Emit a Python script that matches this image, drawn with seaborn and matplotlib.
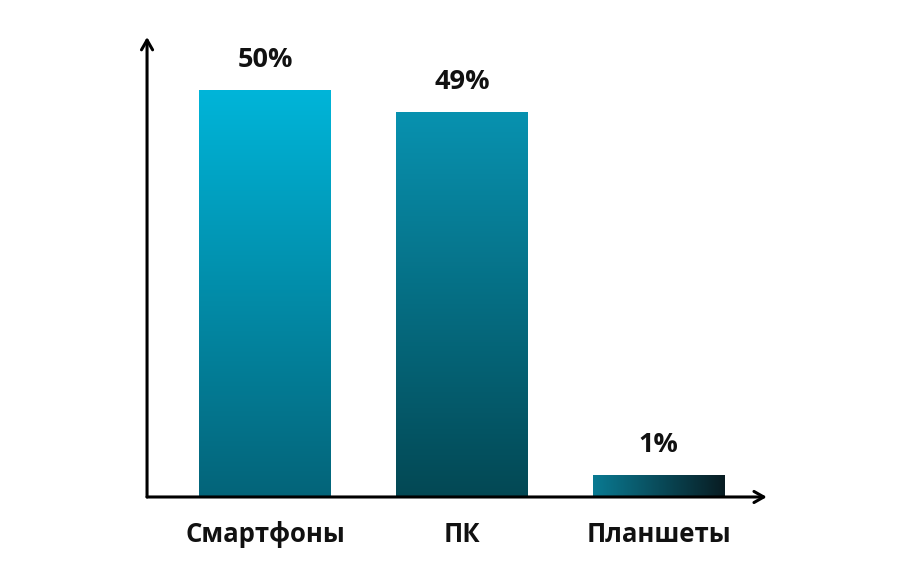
import numpy as np
import pandas as pd
import matplotlib
matplotlib.use("Agg")
import matplotlib.pyplot as plt
import seaborn as sns
from matplotlib.colors import LinearSegmentedColormap

# Data
devices = ["Смартфоны", "ПК", "Планшеты"]
share_labels = ["50%", "49%", "1%"]
# bar heights as drawn in the picture (not strictly to scale)
bar_heights = [50, 47.3, 2.7]

# Gradient colours per bar: (start, end, direction)
gradients = [
    ("#00b5d9", "#046479", "vertical"),
    ("#0892b0", "#034854", "vertical"),
    ("#0a7a92", "#081c22", "horizontal"),
]

df = pd.DataFrame({"device": devices, "height": bar_heights})

sns.set_style("white")
plt.rcParams["font.family"] = ["Open Sans", "DejaVu Sans"]

fig = plt.figure(figsize=(9.15, 5.84), dpi=100)
ax = fig.add_axes([0.1607, 0.149, 0.838 - 0.1607, 0.9366 - 0.149])

sns.barplot(data=df, x="device", y="height", ax=ax, width=0.67, color="#0892b0")

ax.set_xlim(-0.599, 2.548)
ax.set_ylim(0, 56.5)

# Replace flat fill with gradients (start colour at top / left)
for patch, (c0, c1, direction), label in zip(ax.patches, gradients, share_labels):
    x0, y0 = patch.get_x(), patch.get_y()
    w, h = patch.get_width(), patch.get_height()
    cmap = LinearSegmentedColormap.from_list("g", [c0, c1])
    if direction == "vertical":
        grad = np.linspace(0, 1, 256).reshape(-1, 1)
    else:
        grad = np.linspace(0, 1, 256).reshape(1, -1)
    img = ax.imshow(grad, cmap=cmap, aspect="auto",
                    extent=[x0, x0 + w, y0, y0 + h], origin="upper", zorder=2)
    img.set_clip_path(patch)
    patch.set_facecolor("none")
    patch.set_edgecolor("none")
    ax.annotate(label, (x0 + w / 2, y0 + h), xytext=(0, 16.5),
                textcoords="offset points", ha="center", va="baseline",
                fontsize=19.5, fontweight="bold", color="#111111")

ax.set_xlim(-0.599, 2.548)
ax.set_ylim(0, 56.5)

# Axes with arrow heads
for s in ax.spines.values():
    s.set_visible(False)
ax.annotate("", xy=(0, 1), xytext=(0, 0), xycoords="axes fraction",
            arrowprops=dict(arrowstyle="->,head_length=0.7,head_width=0.4",
                            lw=2.2, color="black", shrinkA=0, shrinkB=0))
ax.annotate("", xy=(1, 0), xytext=(0, 0), xycoords="axes fraction",
            arrowprops=dict(arrowstyle="->,head_length=0.7,head_width=0.4",
                            lw=2.2, color="black", shrinkA=0, shrinkB=0))

ax.set_yticks([])
ax.tick_params(axis="x", length=0, pad=17)
for t in ax.get_xticklabels():
    t.set_fontsize(18.5)
    t.set_fontweight("bold")
    t.set_color("#111111")
ax.set_xlabel("")
ax.set_ylabel("")

fig.savefig("out.png", dpi=100)
